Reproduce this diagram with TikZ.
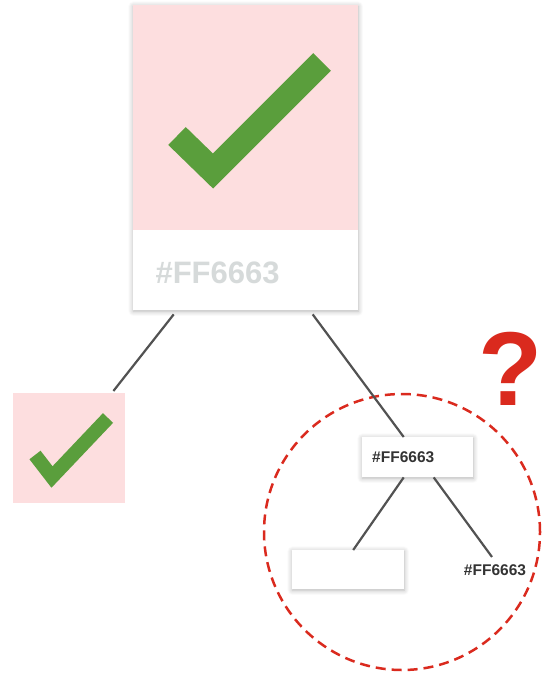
\documentclass[tikz,border=0pt]{standalone}
\usepackage{fontspec}
\setmainfont{Liberation Sans}
\usetikzlibrary{shadows.blur}
\definecolor{pinkbg}{HTML}{FDDEDF}
\definecolor{tickgreen}{HTML}{5A9E3C}
\definecolor{hexgray}{HTML}{D6DADA}
\definecolor{hexdark}{HTML}{333333}
\definecolor{qred}{HTML}{DA2A1E}
\tikzset{
  card/.style={fill=white,inner sep=0pt,blur shadow={shadow xshift=0pt,shadow yshift=-1pt,shadow blur radius=5pt,shadow blur steps=6,shadow opacity=30}},
  tick/.style={draw=tickgreen,line join=miter,line cap=butt},
  link/.style={draw=black!68,line width=2.2pt},
  hexsmall/.style={text=hexdark,font=\bfseries\fontsize{15.5}{16}\selectfont},
}

\begin{document}
\begin{tikzpicture}[x=1pt,y=-1pt]
  \useasboundingbox (0,0) rectangle (542,679);
  \node[card,minimum width=225,minimum height=305,anchor=north west] (big) at (133,5) {};
  \fill[pinkbg] (133,5) rectangle (358,230);
  \draw[tick,line width=25pt] (177,136) -- (213,171) -- (322,62);
  \node[text=hexgray,font=\bfseries\fontsize{31}{31}\selectfont,anchor=west] (bighex) at (152,273) {\#FF6663};
  \node[fill=pinkbg,inner sep=0pt,minimum width=112,minimum height=110,anchor=north west] (small) at (13,393) {};
  \draw[tick,line width=14pt] (35,455) -- (52,477) -- (108,418);
  \node[card,hexsmall,minimum height=40,inner xsep=10pt,text width=91pt,align=left,anchor=north west] (mid) at (362,437) {\#FF6663};
  \node[card,minimum width=112,minimum height=39,anchor=north west] (low) at (292,550) {};
  \node[hexsmall] (lowhex) at (495,570) {\#FF6663};
  \node[draw=qred,dashed,dash pattern=on 10pt off 6pt,line width=2.5pt,circle,minimum size=276] (zone) at (402,532) {};
  \node[text=qred,font=\bfseries\fontsize{105}{105}\selectfont] (qmark) at (511,369) {?};
  \draw[link] ([xshift=-72pt,yshift=-4pt]big.south) -- ([xshift=-12pt,yshift=2pt]small.north east);
  \draw[link] ([xshift=67pt,yshift=-4pt]big.south) -- ([xshift=-14pt]mid.north);
  \draw[link] ([xshift=-14pt]mid.south) -- ([xshift=5pt]low.north);
  \draw[link] ([xshift=16pt]mid.south) -- ([xshift=-3pt,yshift=4pt]lowhex.north);
\end{tikzpicture}
\end{document}
